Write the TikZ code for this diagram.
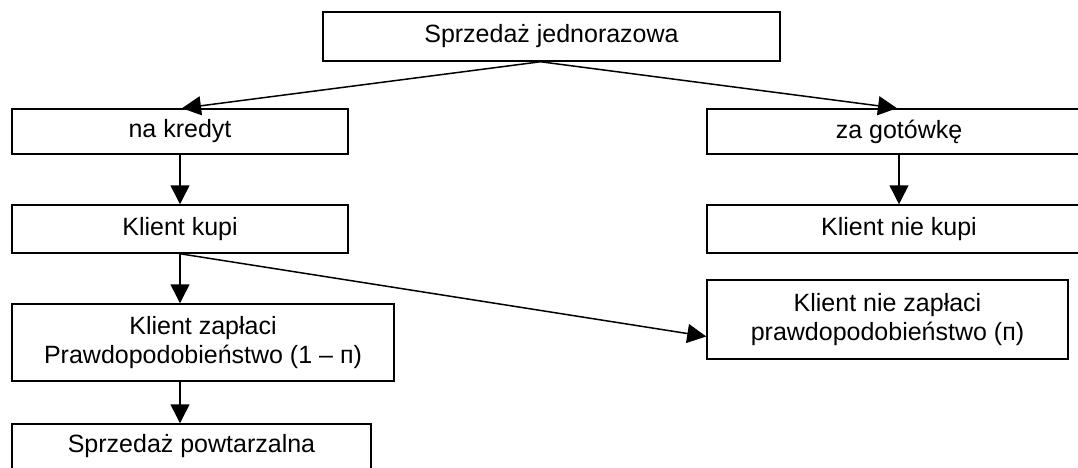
\documentclass[tikz,border=0pt]{standalone}
\usepackage{fontspec}
\setmainfont{Liberation Sans}
\usetikzlibrary{arrows.meta}
\tikzset{
  box/.style={draw, line width=1.5pt, rectangle, inner sep=0pt, align=center,
    font=\fontsize{25}{29}\selectfont},
  link/.style={line width=1.5pt, -{Triangle[length=19pt,width=19pt]}}
}
\begin{document}
\begin{tikzpicture}[x=1pt,y=-1pt]
\useasboundingbox (0,0) rectangle (1078,468);
\clip (0,0) rectangle (1078,468);
% boxes (w x h given in px-sized points)
\node[box, minimum width=457pt, minimum height=49pt] (top) at (551.5,36.5) {Sprzedaż jednorazowa};
\node[box, minimum width=336pt, minimum height=45pt] (kredyt) at (180,131.5) {na kredyt};
\node[box, minimum width=384pt, minimum height=45pt] (gotowka) at (899,131.5) {za gotówkę};
\node[box, minimum width=336pt, minimum height=48pt] (kupi) at (180,229) {Klient kupi};
\node[box, minimum width=384pt, minimum height=48pt] (niekupi) at (899,229) {Klient nie kupi};
\node[box, minimum width=382pt, minimum height=77pt] (zaplaci) at (203,342.5) {Klient zapłaci\\Prawdopodobieństwo (1 – п)};
\node[box, minimum width=361pt, minimum height=79pt] (niezaplaci) at (887.5,319.5) {Klient nie zapłaci\\prawdopodobieństwo (п)};
\node[box, minimum width=359pt, minimum height=60pt] (powt) at (191.5,454) {};
\node[font=\fontsize{25}{29}\selectfont] at (191.5,446) {Sprzedaż powtarzalna};
% connectors
\coordinate (split) at ([xshift=-11pt]top.south);
\draw[link] (split) -- ([xshift=2pt]kredyt.north);
\draw[link] (split) -- ([xshift=-2pt]gotowka.north);
\draw[link] (kredyt.south) -- (kupi.north);
\draw[link] (gotowka.south) -- (niekupi.north);
\draw[link] (kupi.south) -- (kupi.south |- zaplaci.north);
\draw[link] (kupi.south) -- ([yshift=-17pt]niezaplaci.west);
\draw[link] (kupi.south |- zaplaci.south) -- (kupi.south |- powt.north);
\end{tikzpicture}
\end{document}
